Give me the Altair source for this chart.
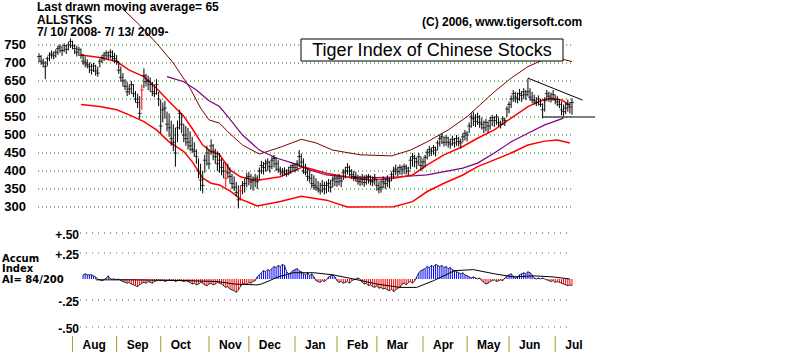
import altair as alt
import pandas as pd

FONT = "Liberation Sans"

# ---- daily price bars, trading days from 7/10/2008 to 7/13/2009 ----
HIGH = [727, 722, 712, 705, 718, 730, 735, 732, 738, 748,
        752, 745, 755, 750, 758, 768, 762, 752, 748, 745,
        740, 725, 718, 710, 702, 698, 700, 695, 690, 712,
        722, 730, 735, 732, 738, 735, 728, 722, 705, 690,
        672, 655, 648, 640, 650, 642, 622, 615, 608, 640,
        685, 670, 665, 660, 648, 640, 655, 620, 598, 590,
        595, 565, 560, 540, 530, 520, 540, 570, 560, 530,
        525, 520, 510, 495, 480, 460, 435, 420, 400, 445,
        470, 460, 488, 475, 462, 455, 450, 435, 425, 425,
        420, 410, 392, 385, 370, 360, 360, 372, 378, 395,
        398, 392, 385, 392, 388, 410, 428, 425, 432, 435,
        428, 440, 445, 438, 430, 412, 408, 410, 405, 412,
        418, 422, 420, 430, 458, 448, 435, 420, 408, 402,
        392, 388, 380, 372, 368, 375, 370, 372, 378, 375,
        385, 390, 388, 392, 385, 405, 412, 422, 415, 405,
        400, 398, 390, 386, 392, 388, 390, 392, 388, 385,
        392, 378, 372, 375, 385, 380, 388, 382, 398, 412,
        418, 412, 418, 415, 420, 418, 412, 440, 450, 445,
        438, 450, 440, 435, 445, 460, 470, 465, 472, 468,
        485, 500, 505, 495, 500, 495, 490, 498, 492, 500,
        495, 490, 505, 514, 510, 535, 560, 565, 558, 562,
        555, 548, 540, 545, 538, 550, 556, 552, 558, 548,
        540, 552, 548, 580, 593, 610, 625, 620, 618, 628,
        622, 630, 625, 657, 630, 620, 612, 605, 610, 600,
        588, 605, 625, 620, 618, 625, 612, 608, 600, 593,
        585, 590, 598, 592, 602]
LOW = [702, 695, 688, 655, 692, 705, 712, 710, 715, 722,
       728, 720, 730, 725, 735, 742, 738, 725, 718, 720,
       712, 695, 688, 685, 672, 668, 675, 665, 662, 688,
       700, 705, 712, 708, 712, 705, 700, 695, 670, 648,
       635, 625, 608, 612, 615, 605, 590, 575, 545, 570,
       630, 635, 625, 620, 608, 605, 612, 580, 505, 535,
       545, 510, 495, 470, 455, 412, 480, 515, 505, 480,
       470, 460, 455, 450, 440, 420, 380, 345, 338, 395,
       415, 405, 445, 430, 420, 400, 395, 388, 380, 355,
       380, 365, 350, 345, 330, 296, 318, 335, 340, 355,
       360, 350, 345, 355, 350, 375, 392, 390, 398, 400,
       395, 405, 410, 400, 395, 388, 385, 388, 384, 388,
       392, 398, 396, 400, 412, 410, 392, 388, 372, 368,
       352, 348, 345, 340, 335, 340, 335, 338, 342, 340,
       355, 358, 356, 360, 355, 375, 380, 390, 385, 378,
       372, 370, 362, 358, 360, 356, 362, 365, 360, 358,
       362, 345, 338, 340, 352, 350, 355, 352, 372, 380,
       388, 385, 390, 388, 392, 390, 388, 405, 412, 410,
       405, 415, 400, 405, 410, 432, 440, 442, 445, 440,
       458, 468, 475, 468, 470, 465, 462, 470, 465, 470,
       468, 462, 480, 485, 482, 505, 520, 525, 522, 528,
       520, 515, 505, 510, 505, 515, 525, 522, 528, 522,
       518, 528, 525, 550, 560, 575, 592, 590, 588, 595,
       592, 600, 597, 607, 595, 588, 585, 580, 582, 578,
       546, 565, 595, 592, 590, 595, 585, 580, 575, 555,
       552, 558, 565, 560, 556]
CLOSE = [718, 705, 700, 690, 712, 722, 725, 720, 730, 740,
         745, 735, 748, 738, 750, 760, 748, 740, 730, 738,
         722, 705, 700, 695, 690, 680, 692, 678, 672, 705,
         715, 722, 728, 720, 730, 718, 712, 705, 680, 660,
         650, 635, 620, 628, 640, 615, 600, 590, 560, 625,
         665, 648, 650, 640, 620, 615, 640, 600, 525, 570,
         575, 530, 520, 490, 480, 450, 520, 560, 530, 500,
         490, 480, 470, 460, 455, 440, 400, 375, 360, 430,
         450, 420, 470, 455, 440, 420, 430, 410, 400, 380,
         395, 385, 365, 355, 340, 320, 345, 360, 365, 380,
         385, 370, 375, 380, 370, 400, 415, 410, 420, 425,
         412, 430, 435, 420, 405, 400, 395, 400, 392, 400,
         410, 415, 410, 420, 440, 425, 400, 395, 385, 380,
         365, 360, 355, 350, 345, 360, 350, 360, 365, 355,
         375, 380, 370, 380, 372, 395, 400, 410, 400, 390,
         385, 382, 372, 370, 378, 368, 380, 385, 372, 370,
         380, 360, 350, 355, 370, 365, 375, 372, 390, 400,
         405, 398, 410, 405, 412, 408, 400, 430, 440, 435,
         425, 440, 415, 425, 438, 452, 460, 455, 465, 458,
         478, 490, 495, 480, 492, 480, 475, 488, 478, 490,
         482, 478, 495, 505, 500, 525, 550, 545, 538, 550,
         535, 530, 520, 535, 525, 540, 548, 540, 550, 535,
         530, 545, 540, 572, 585, 600, 615, 605, 600, 615,
         610, 620, 612, 620, 605, 598, 595, 590, 600, 585,
         570, 595, 615, 608, 600, 612, 598, 592, 585, 570,
         565, 575, 585, 578, 590]
SIGNAL_DAYS = [49, 89, 96]

# ---- moving average and bands (vertices: trading-day index, value) ----
MA_DAYS = [20, 29, 37, 43, 50, 56, 62, 69, 73, 78, 82, 86, 91, 96, 102, 105, 115, 126,
           137, 150, 158, 169, 178, 185, 193, 202, 209, 217, 225, 233, 240, 244, 249, 253]
MA_VALUES = [722, 715, 704, 680, 662, 630, 593, 552, 518, 472, 454, 446, 403, 384, 375, 375, 384, 412,
             394, 380, 375, 380, 389, 417, 445, 468, 491, 514, 547, 579, 597, 602, 597, 583]
LOWER_DAYS = [20, 29, 37, 43, 50, 56, 62, 69, 73, 78, 82, 86, 91, 96, 104, 115, 125, 137,
              147, 169, 178, 185, 193, 202, 209, 217, 225, 233, 241, 247, 253]
LOWER_VALUES = [585, 579, 570, 556, 537, 514, 481, 454, 426, 380, 366, 361, 345, 322, 303, 315, 330, 319,
                300, 301, 315, 343, 366, 389, 412, 431, 450, 472, 483, 486, 478]
PURPLE_DAYS = [61, 69, 75, 81, 86, 90, 97, 105, 113, 121, 129, 137, 145, 161, 172, 185,
               202, 209, 217, 225, 233, 241, 250]
PURPLE_VALUES = [662, 648, 625, 595, 579, 551, 500, 458, 436, 422, 403, 389, 384, 382, 384, 389,
                 408, 422, 450, 481, 505, 528, 547]
UPPER_DAYS = [38, 48, 56, 64, 72, 77, 81, 86, 90, 97, 105, 115, 125, 132, 140, 153, 168,
              177, 185, 195, 204, 210, 217, 225, 233, 240, 244, 249, 254]
UPPER_VALUES = [861, 805, 755, 700, 630, 575, 542, 533, 509, 472, 447, 466, 488, 478, 458, 445, 442,
                458, 481, 514, 551, 583, 620, 658, 690, 708, 714, 711, 704]
TREND_DAYS = [233, 259]
TREND_VALUES = [658, 597]
SUPPORT_DAYS = [240, 265]
SUPPORT_VALUES = [550, 550]

# ---- accumulation index (hundredths), daily from trading day 21 ----
AI_START = 21
AI_VALUES = [4, 5, 4, 4, 4, 3, 2,
             0, -1, -2, -1, 1, 3, 0,
             0, 0, -1, 0,
             -2, -3, -4, -5, -4, -6, -7, -8, -9, -7, -5,
             -4, -5, -3, -4, -5, -3, -2,
             -1, -2, -1, -3, -2, -1, -2, -1, -3, -2, -1, -2, -3, -2,
             -3, -4, -6, -5, -7, -6, -4, -5, -7, -8, -6, -5, -7, -6, -4, -5,
             -6, -8, -10, -9, -12, -13, -14, -16, -13, -9,
             -6, -5, -7, -4, -5, -3, -2,
             2, 4, 6, 8, 7, 9,
             8, 10, 12, 11, 13, 12, 14, 13,
             7, 5, 6, 8,
             9, 10, 8, 7,
             5, 4, 6, 3, 5, 2,
             -2, -3, -4, -2, -3, -1,
             2, 3, 4, 2,
             -2, -4, -3, -5, -4, -3, -5, -2, -1,
             0, 1, 0,
             -4, -6, -5, -8, -7, -9, -10, -8, -11, -10,
             -12, -11, -13, -14, -12, -15, -13, -11, -10,
             -6, -5, -7, -4, -3, -5, -2, 2,
             6, 8, 9,
             10, 12, 11, 13, 12, 14, 13, 12, 13, 11, 12, 10, 11, 9, 8,
             7, 6, 5, 6, 4, 3,
             2, 1, 2, 1, 0, 1, -2,
             -4, -6, -5, -3, -2,
             -1, -3, -2, -1, -2, 1,
             3, 4, 5, 3, 1,
             2, 4, 5, 6, 5, 7, 6, 4,
             1, 0, 1, 0, 1, 0, -1,
             -2, -3, -2, -4, -3, -4, -5,
             -6, -7, -8, -7, -8]
AI_MA_DAYS = [27, 45, 71, 85, 93, 104, 106, 114, 121, 131, 140, 150, 161, 172, 180, 188,
              198, 207, 217, 226, 236, 245, 253]
AI_MA_VALUES = [-1, -1, -2, -3, -6, -7, -6, 2, 6, 6, 4, 0, -6, -10, -10, -2,
                8, 9, 5, 2, 3, 2, 0]

PRICE_TICKS = [750, 700, 650, 600, 550, 500, 450, 400, 350, 300]
AI_TICKS = [0.5, 0.25, -0.25, -0.5]
AI_TICK_LABELS = ["+.50", "+.25", "-.25", "-.50"]
AI_GRID_COLORS = ["#b000b0", "#606060", "#b000b0", "#606060"]
MONTH_START_DAYS = [16, 37, 58, 81, 100, 122, 142, 161, 183, 204, 224, 246]
MONTH_LABELS = ["Aug", "Sep", "Oct", "Nov", "Dec", "Jan", "Feb", "Mar", "Apr", "May", "Jun", "Jul"]

HEADER_LINES = ["Last drawn moving average= 65", "ALLSTKS", " 7/ 10/ 2008- 7/ 13/ 2009-"]
HEADER_Y = [7, 19.5, 32]
AI_CAPTION = ["Accum", "Index", "AI= 84/200"]
AI_CAPTION_Y = [259, 269.3, 279.6]
COPYRIGHT = "(C) 2006, www.tigersoft.com"
TITLE = "Tiger Index of Chinese Stocks"

# ---- scales ----
xs = alt.Scale(domain=[0, 254], range=[39, 572], nice=False, zero=False)
ps = alt.Scale(domain=[300, 750], range=[207, 45], nice=False, zero=False)
ais = alt.Scale(domain=[-0.5, -0.25, 0, 0.25, 0.5], range=[327, 300, 279, 253, 233],
                nice=False, zero=False)

days = list(range(len(HIGH)))
bars = pd.DataFrame({
    "d": days, "hi": HIGH, "lo": LOW, "cl": CLOSE,
    "col": ["#ff0000" if d in SIGNAL_DAYS else "#000000" for d in days],
})
ai = pd.DataFrame({"d": [AI_START + i for i in range(len(AI_VALUES))],
                   "v": [v / 100 for v in AI_VALUES]})
ai["col"] = ["#0000ff" if v >= 0 else "#ff0000" for v in ai["v"]]
ai_ma = pd.DataFrame({"d": AI_MA_DAYS, "v": [v / 100 for v in AI_MA_VALUES]})
one = pd.DataFrame({"k": [0]})


def X(field="d"):
    return alt.X(f"{field}:Q", scale=xs, axis=None)


def PY(field="v"):
    return alt.Y(f"{field}:Q", scale=ps, axis=None)


def AY(field="v"):
    return alt.Y(f"{field}:Q", scale=ais, axis=None)


def line(days_, vals, color, width):
    df = pd.DataFrame({"d": days_, "v": vals})
    return alt.Chart(df).mark_line(color=color, strokeWidth=width, interpolate="linear").encode(
        x=X(), y=PY())


layers = []

# price grid
layers.append(alt.Chart(pd.DataFrame({"v": PRICE_TICKS})).mark_rule(
    color="#008000", strokeDash=[1, 3], strokeWidth=1).encode(
    y=PY(), x=alt.value(38), x2=alt.value(572)))
# AI grid
layers.append(alt.Chart(pd.DataFrame({"v": AI_TICKS, "c": AI_GRID_COLORS})).mark_rule(
    strokeDash=[1, 5], strokeWidth=1).encode(
    y=AY(), x=alt.value(80), x2=alt.value(570), color=alt.Color("c:N", scale=None)))

# price axis labels
layers.append(alt.Chart(pd.DataFrame({"v": PRICE_TICKS, "t": [str(v) for v in PRICE_TICKS]})).mark_text(
    align="right", baseline="middle", font=FONT, fontSize=13, fontWeight="bold", color="black").encode(
    y=PY(), x=alt.value(26), text="t:N"))
# AI axis labels
layers.append(alt.Chart(pd.DataFrame({"v": AI_TICKS, "t": AI_TICK_LABELS})).mark_text(
    align="right", baseline="middle", font=FONT, fontSize=12, fontWeight="bold", color="black", dy=2).encode(
    y=AY(), x=alt.value(79), text="t:N"))

# bands and averages
layers.append(line(UPPER_DAYS, UPPER_VALUES, "#800000", 1))
layers.append(line(PURPLE_DAYS, PURPLE_VALUES, "#800080", 1.2))
layers.append(line(LOWER_DAYS, LOWER_VALUES, "#ff0000", 1.5))
layers.append(line(MA_DAYS, MA_VALUES, "#ff0000", 1.5))

# price bars
layers.append(alt.Chart(bars).mark_rule(strokeWidth=1).encode(
    x=X(), y=PY("lo"), y2=alt.Y2("hi:Q"), color=alt.Color("col:N", scale=None)))
layers.append(alt.Chart(bars).mark_tick(orient="horizontal", size=4, thickness=1).encode(
    x=X(), y=PY("cl"), color=alt.Color("col:N", scale=None)))

# trend lines
layers.append(line(TREND_DAYS, TREND_VALUES, "#000000", 1))
layers.append(line(SUPPORT_DAYS, SUPPORT_VALUES, "#000000", 1))

# accumulation index histogram, line and its average
layers.append(alt.Chart(ai).mark_rule(strokeWidth=1).encode(
    x=X(), y=AY(), y2=alt.Y2(datum=0), color=alt.Color("col:N", scale=None)))
layers.append(alt.Chart(ai).mark_line(color="#000000", strokeWidth=0.8).encode(x=X(), y=AY()))
layers.append(alt.Chart(ai_ma).mark_line(color="#000000", strokeWidth=1).encode(x=X(), y=AY()))

# month separators and labels
months = pd.DataFrame({"d": MONTH_START_DAYS, "t": MONTH_LABELS})
layers.append(alt.Chart(months).mark_rule(color="#a0a030", strokeWidth=1).encode(
    x=X(), y=alt.value(336), y2=alt.value(352)))
layers.append(alt.Chart(months).mark_text(
    align="left", baseline="middle", font=FONT, fontSize=12, fontWeight="bold", color="black", dx=10).encode(
    x=X(), y=alt.value(345), text="t:N"))

# header lines
for t, y in zip(HEADER_LINES, HEADER_Y):
    layers.append(alt.Chart(one).mark_text(
        text=t, align="left", baseline="middle", font=FONT, fontSize=12, fontWeight="bold",
        color="black").encode(x=alt.value(37), y=alt.value(y)))
# accumulation caption
for t, y in zip(AI_CAPTION, AI_CAPTION_Y):
    layers.append(alt.Chart(one).mark_text(
        text=t, align="left", baseline="middle", font="DejaVu Sans", fontSize=10, fontWeight="bold",
        color="black").encode(x=alt.value(2), y=alt.value(y)))
# copyright
layers.append(alt.Chart(one).mark_text(
    text=COPYRIGHT, align="left", baseline="middle", font=FONT, fontSize=12, fontWeight="bold",
    color="black").encode(x=alt.value(422), y=alt.value(22)))

# title box
layers.append(alt.Chart(one).mark_rect(
    fill="white", stroke="black", strokeWidth=1).encode(
    x=alt.value(301), x2=alt.value(563), y=alt.value(39), y2=alt.value(61)))
layers.append(alt.Chart(one).mark_text(
    text=TITLE, align="center", baseline="middle", font=FONT, fontSize=18, color="black").encode(
    x=alt.value(432), y=alt.value(51)))

chart = alt.layer(*layers).resolve_scale(y="independent").properties(
    width=800, height=352, padding=0, autosize="none", background="white"
).configure_view(stroke=None)

chart.save("out.html", embed_options={"renderer": "svg", "actions": False})
